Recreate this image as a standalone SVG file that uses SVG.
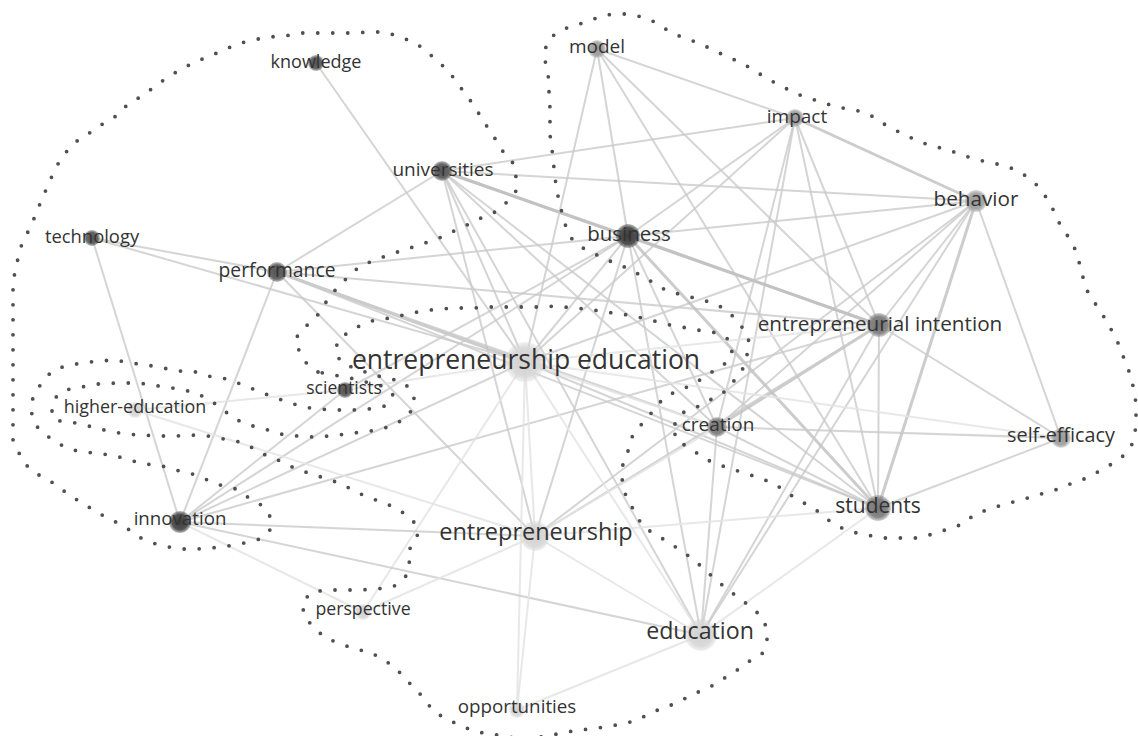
<svg xmlns="http://www.w3.org/2000/svg" width="1138" height="736" viewBox="0 0 1138 736">
<style>
.bg{fill:#ffffff}
.edges line{stroke-linecap:round}
.e{stroke:#cbcbcb;stroke-width:2;opacity:.8}
.s{stroke:#c0c0c0;stroke-width:3;opacity:.8}
.f{stroke:#e4e4e4;stroke-width:2;opacity:.85}
.hull{fill:none;stroke:#505050;stroke-width:3.8;stroke-linecap:round;stroke-linejoin:round;stroke-dasharray:0 15}
.lbl{font-family:"Open Sans","Noto Sans",sans-serif;fill:#333333;text-anchor:middle}
</style>
<defs>
<radialGradient id="gDark"><stop offset="0" stop-color="#3c3c3c"/><stop offset="0.7" stop-color="#4a4a4a" stop-opacity="0.95"/><stop offset="1" stop-color="#4a4a4a" stop-opacity="0.35"/></radialGradient>
<radialGradient id="gMid"><stop offset="0" stop-color="#555555"/><stop offset="0.7" stop-color="#5e5e5e" stop-opacity="0.95"/><stop offset="1" stop-color="#5e5e5e" stop-opacity="0.35"/></radialGradient>
<radialGradient id="gGray"><stop offset="0" stop-color="#777777"/><stop offset="0.7" stop-color="#808080" stop-opacity="0.95"/><stop offset="1" stop-color="#808080" stop-opacity="0.35"/></radialGradient>
<radialGradient id="gLight"><stop offset="0" stop-color="#999999"/><stop offset="0.7" stop-color="#a2a2a2" stop-opacity="0.95"/><stop offset="1" stop-color="#a2a2a2" stop-opacity="0.35"/></radialGradient>
<radialGradient id="gPale"><stop offset="0" stop-color="#d2d2d2"/><stop offset="0.7" stop-color="#d8d8d8" stop-opacity="0.95"/><stop offset="1" stop-color="#d8d8d8" stop-opacity="0.35"/></radialGradient>
</defs>
<rect class="bg" x="0" y="0" width="1138" height="736"/>
<g id="connectors" class="edges">
<line class="e" x1="316" y1="63" x2="525" y2="362"/>
<line class="e" x1="92" y1="238" x2="277" y2="272"/>
<line class="e" x1="92" y1="238" x2="525" y2="362"/>
<line class="e" x1="92" y1="238" x2="180" y2="522"/>
<line class="e" x1="442" y1="171" x2="277" y2="272"/>
<line class="e" x1="442" y1="171" x2="795" y2="118"/>
<line class="e" x1="442" y1="171" x2="976" y2="201"/>
<line class="s" x1="442" y1="171" x2="628" y2="236"/>
<line class="s" x1="442" y1="171" x2="879" y2="325"/>
<line class="e" x1="442" y1="171" x2="878" y2="508"/>
<line class="e" x1="442" y1="171" x2="717" y2="427"/>
<line class="e" x1="442" y1="171" x2="525" y2="362"/>
<line class="e" x1="442" y1="171" x2="535" y2="536"/>
<line class="e" x1="442" y1="171" x2="701" y2="635"/>
<line class="e" x1="277" y1="272" x2="628" y2="236"/>
<line class="e" x1="277" y1="272" x2="879" y2="325"/>
<line class="s" x1="277" y1="272" x2="525" y2="362"/>
<line class="e" x1="277" y1="272" x2="717" y2="427"/>
<line class="e" x1="277" y1="272" x2="535" y2="536"/>
<line class="e" x1="277" y1="272" x2="180" y2="522"/>
<line class="e" x1="277" y1="272" x2="878" y2="508"/>
<line class="e" x1="597" y1="49" x2="795" y2="118"/>
<line class="e" x1="597" y1="49" x2="628" y2="236"/>
<line class="e" x1="597" y1="49" x2="525" y2="362"/>
<line class="e" x1="597" y1="49" x2="879" y2="325"/>
<line class="e" x1="597" y1="49" x2="878" y2="508"/>
<line class="s" x1="795" y1="118" x2="976" y2="201"/>
<line class="e" x1="795" y1="118" x2="628" y2="236"/>
<line class="e" x1="795" y1="118" x2="525" y2="362"/>
<line class="e" x1="795" y1="118" x2="879" y2="325"/>
<line class="e" x1="795" y1="118" x2="878" y2="508"/>
<line class="e" x1="795" y1="118" x2="717" y2="427"/>
<line class="e" x1="795" y1="118" x2="701" y2="635"/>
<line class="e" x1="976" y1="201" x2="628" y2="236"/>
<line class="e" x1="976" y1="201" x2="525" y2="362"/>
<line class="e" x1="976" y1="201" x2="879" y2="325"/>
<line class="s" x1="976" y1="201" x2="878" y2="508"/>
<line class="e" x1="976" y1="201" x2="1061" y2="438"/>
<line class="e" x1="976" y1="201" x2="717" y2="427"/>
<line class="e" x1="976" y1="201" x2="701" y2="635"/>
<line class="e" x1="976" y1="201" x2="535" y2="536"/>
<line class="s" x1="628" y1="236" x2="879" y2="325"/>
<line class="s" x1="628" y1="236" x2="878" y2="508"/>
<line class="e" x1="628" y1="236" x2="717" y2="427"/>
<line class="e" x1="628" y1="236" x2="525" y2="362"/>
<line class="e" x1="628" y1="236" x2="535" y2="536"/>
<line class="e" x1="628" y1="236" x2="701" y2="635"/>
<line class="e" x1="628" y1="236" x2="180" y2="522"/>
<line class="e" x1="628" y1="236" x2="345" y2="390"/>
<line class="f" x1="879" y1="325" x2="525" y2="362"/>
<line class="s" x1="879" y1="325" x2="717" y2="427"/>
<line class="e" x1="879" y1="325" x2="878" y2="508"/>
<line class="e" x1="879" y1="325" x2="1061" y2="438"/>
<line class="e" x1="879" y1="325" x2="701" y2="635"/>
<line class="e" x1="879" y1="325" x2="535" y2="536"/>
<line class="e" x1="879" y1="325" x2="180" y2="522"/>
<line class="f" x1="525" y1="362" x2="717" y2="427"/>
<line class="e" x1="525" y1="362" x2="878" y2="508"/>
<line class="f" x1="525" y1="362" x2="1061" y2="438"/>
<line class="e" x1="525" y1="362" x2="180" y2="522"/>
<line class="f" x1="525" y1="362" x2="345" y2="390"/>
<line class="f" x1="525" y1="362" x2="535" y2="536"/>
<line class="f" x1="525" y1="362" x2="701" y2="635"/>
<line class="f" x1="525" y1="362" x2="517" y2="710"/>
<line class="f" x1="525" y1="362" x2="363" y2="612"/>
<line class="e" x1="717" y1="427" x2="1061" y2="438"/>
<line class="e" x1="717" y1="427" x2="878" y2="508"/>
<line class="e" x1="717" y1="427" x2="701" y2="635"/>
<line class="f" x1="717" y1="427" x2="535" y2="536"/>
<line class="e" x1="878" y1="508" x2="1061" y2="438"/>
<line class="f" x1="878" y1="508" x2="535" y2="536"/>
<line class="f" x1="878" y1="508" x2="701" y2="635"/>
<line class="e" x1="180" y1="522" x2="535" y2="536"/>
<line class="e" x1="180" y1="522" x2="701" y2="635"/>
<line class="e" x1="180" y1="522" x2="345" y2="390"/>
<line class="f" x1="535" y1="536" x2="517" y2="710"/>
<line class="f" x1="535" y1="536" x2="363" y2="612"/>
<line class="f" x1="535" y1="536" x2="701" y2="635"/>
<line class="f" x1="135" y1="410" x2="345" y2="390"/>
<line class="f" x1="135" y1="410" x2="535" y2="536"/>
<line class="f" x1="701" y1="635" x2="517" y2="710"/>
<line class="f" x1="180" y1="522" x2="363" y2="612"/>
</g>
<g id="clusters">
<polygon class="hull" points="318,372 307,364 300,353 295,340 302,329 314,320 322,309 329,297 339,286 349,276 360,266 375,260 391,254 407,249 422,244 437,239 452,232 467,225 481,218 495,212 507,202 516,191 516,178 515,165 505,155 498,143 490,131 482,119 475,107 467,96 458,84 450,73 439,62 427,52 416,43 400,37 385,32 369,32 353,33 335,33 318,33 302,33 285,36 269,37 253,40 237,44 222,51 207,57 193,63 178,71 165,79 153,88 140,97 127,105 118,115 104,123 91,132 78,140 67,151 59,162 53,174 47,187 42,200 36,212 32,225 25,237 20,249 17,263 14,277 13,290 13,440 17,449 24,463 35,473 49,480 61,489 74,498 87,506 100,514 114,521 128,529 141,538 156,544 178,549 196,549 211,548 228,546 244,543 260,539 271,529 271,518 263,506 249,498 236,489 220,485 205,479 190,473 175,470 159,465 143,464 127,459 111,455 94,453 77,451 63,446 50,438 38,428 32,416 31,403 36,391 44,380 52,371 65,366 82,363 98,361 115,360 131,363 147,365 163,368 180,371 196,372 212,377 228,379 243,385 258,391 273,397 288,402 303,407 319,409 336,410 353,410 369,409 385,406 393,395 382,386 366,382 350,378 334,375"/>
<polygon class="hull" points="675,424 682,413 697,407 710,400 723,393 733,382 742,371 746,358 750,345 746,332 737,321 728,311 714,303 698,299 683,295 667,291 654,283 640,275 627,268 612,262 597,255 583,248 572,239 566,227 562,213 559,200 556,188 555,174 553,161 552,148 550,135 550,122 550,108 549,94 549,81 547,69 544,56 547,42 556,33 571,26 587,22 601,16 614,14 626,14 643,17 657,23 670,32 684,38 699,43 713,50 728,57 742,63 755,71 768,79 783,87 797,94 812,99 827,104 843,108 859,111 874,117 887,126 901,133 916,140 931,146 946,149 962,155 978,160 993,163 1009,167 1023,174 1035,183 1044,194 1052,207 1057,219 1064,231 1073,243 1077,256 1081,268 1084,282 1089,295 1097,306 1104,317 1112,331 1118,343 1123,356 1128,368 1132,382 1135,394 1136,407 1136,420 1135,434 1131,447 1122,457 1110,465 1096,473 1082,480 1067,485 1053,491 1037,495 1021,500 1005,504 990,509 975,514 963,524 948,529 933,534 917,538 901,538 884,538 867,535 852,532 837,526 824,517 814,508 800,501 786,492 775,484 760,478 744,473 729,468 713,463 700,455 687,447 675,438"/>
<polygon class="hull" points="52,411 55,398 65,390 82,387 98,384 116,383 132,383 148,384 164,387 180,389 196,393 210,400 222,409 235,419 249,425 265,429 280,434 297,436 313,437 329,436 346,434 362,432 378,430 394,425 407,417 415,405 413,392 403,382 388,378 373,375 358,369 343,364 335,353 338,340 350,331 363,324 375,320 391,318 407,314 423,311 439,309 456,308 473,308 489,307 506,307 523,307 539,307 556,306 573,308 588,309 605,312 622,314 638,317 654,321 670,325 687,328 703,331 718,333 731,341 732,354 723,366 710,373 697,382 683,389 668,395 658,404 649,416 640,426 632,437 628,451 623,463 622,477 623,489 629,502 636,514 643,527 655,534 668,542 680,550 693,559 704,569 715,579 727,589 739,598 751,607 762,617 767,629 767,641 762,654 748,662 736,671 723,679 710,687 696,693 682,700 667,707 652,712 638,720 622,724 605,727 589,729 573,731 557,734 540,737 525,739 508,737 492,734 477,732 461,726 447,719 434,712 425,700 416,689 405,679 396,668 384,660 370,652 354,649 339,643 325,638 315,628 305,618 302,604 310,593 325,590 342,590 360,590 376,589 393,587 405,578 410,565 407,553 415,541 419,531 412,519 399,510 385,503 370,498 356,492 342,484 327,479 312,474 296,469 283,462 267,456 255,449 240,442 224,439 208,436 191,435 175,436 158,436 141,435 125,434 108,431 93,427 76,423 60,421"/>
</g>
<g id="node-knowledge"><circle cx="316" cy="63" r="8" fill="url(#gMid)"/><text class="lbl" x="316" y="68" font-size="18">knowledge</text></g>
<g id="node-model"><circle cx="597" cy="49" r="9" fill="url(#gLight)"/><text class="lbl" x="597" y="53" font-size="19">model</text></g>
<g id="node-impact"><circle cx="795" cy="118" r="9" fill="url(#gLight)"/><text class="lbl" x="797" y="123" font-size="19">impact</text></g>
<g id="node-universities"><circle cx="442" cy="171" r="10" fill="url(#gMid)"/><text class="lbl" x="443" y="176" font-size="19">universities</text></g>
<g id="node-behavior"><circle cx="976" cy="201" r="11" fill="url(#gLight)"/><text class="lbl" x="976" y="206" font-size="20.7">behavior</text></g>
<g id="node-technology"><circle cx="92" cy="238" r="8" fill="url(#gMid)"/><text class="lbl" x="92" y="243" font-size="18.4">technology</text></g>
<g id="node-business"><circle cx="628" cy="236" r="12" fill="url(#gDark)"/><text class="lbl" x="629" y="241" font-size="20.5">business</text></g>
<g id="node-performance"><circle cx="277" cy="272" r="10" fill="url(#gMid)"/><text class="lbl" x="277" y="277" font-size="19.3">performance</text></g>
<g id="node-entrepreneurial-intention"><circle cx="879" cy="325" r="12" fill="url(#gGray)"/><text class="lbl" x="880" y="331" font-size="20.7">entrepreneurial intention</text></g>
<g id="node-entrepreneurship-education"><circle cx="525" cy="362" r="20" fill="url(#gPale)"/><text class="lbl" x="526" y="369" font-size="26.5">entrepreneurship education</text></g>
<g id="node-scientists"><circle cx="345" cy="390" r="8" fill="url(#gMid)"/><text class="lbl" x="344" y="394" font-size="17.6">scientists</text></g>
<g id="node-higher-education"><circle cx="135" cy="410" r="8" fill="url(#gPale)"/><text class="lbl" x="135" y="413" font-size="17.9">higher-education</text></g>
<g id="node-creation"><circle cx="717" cy="427" r="10" fill="url(#gGray)"/><text class="lbl" x="718" y="431" font-size="19">creation</text></g>
<g id="node-self-efficacy"><circle cx="1061" cy="438" r="10" fill="url(#gLight)"/><text class="lbl" x="1061" y="442" font-size="19.8">self-efficacy</text></g>
<g id="node-students"><circle cx="878" cy="508" r="13" fill="url(#gGray)"/><text class="lbl" x="878" y="513" font-size="21">students</text></g>
<g id="node-innovation"><circle cx="180" cy="522" r="11" fill="url(#gDark)"/><text class="lbl" x="180" y="525" font-size="18.7">innovation</text></g>
<g id="node-entrepreneurship"><circle cx="535" cy="536" r="15" fill="url(#gPale)"/><text class="lbl" x="536" y="540" font-size="23.5">entrepreneurship</text></g>
<g id="node-perspective"><circle cx="363" cy="612" r="8" fill="url(#gPale)"/><text class="lbl" x="363" y="615" font-size="17.7">perspective</text></g>
<g id="node-education"><circle cx="701" cy="635" r="16" fill="url(#gPale)"/><text class="lbl" x="700" y="639" font-size="23.2">education</text></g>
<g id="node-opportunities"><circle cx="517" cy="710" r="8" fill="url(#gPale)"/><text class="lbl" x="517" y="713" font-size="18.8">opportunities</text></g>
</svg>
